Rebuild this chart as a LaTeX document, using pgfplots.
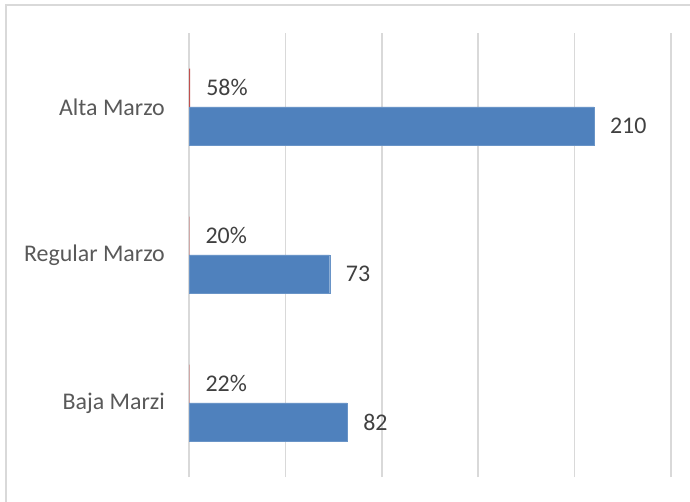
\documentclass[border=0pt]{standalone}
\usepackage{fontspec}
\setmainfont{Carlito}
\usepackage{pgfplots}
\pgfplotsset{compat=1.18}
\definecolor{barblue}{HTML}{4F81BD}
\definecolor{barred}{HTML}{C0504D}
\definecolor{gridgray}{HTML}{D9D9D9}
\definecolor{labelgray}{HTML}{595959}
\definecolor{valgray}{HTML}{404040}

\begin{document}
\begin{tikzpicture}
\useasboundingbox (0,0) rectangle (690bp,502bp);
% chart area frame (only top and left edges visible in the crop)
\draw[gridgray, line width=1.3bp] (6bp,0) -- (6bp,497bp) -- (690bp,497bp);
\begin{axis}[
    at={(189bp,25bp)}, anchor=south west,
    scale only axis,
    width=482bp, height=444bp,
    xbar,
    xmin=0, xmax=250,
    ymin=-0.5, ymax=2.5,
    xtick={0,50,...,250},
    xticklabels={},
    ytick={0,1,2},
    yticklabels={Baja Marzi, Regular Marzo, Alta Marzo},
    major tick length=0,
    xmajorgrids,
    grid style={gridgray, line width=1.5bp},
    axis line style={draw=none},
    yticklabel style={font=\fontsize{24}{28}\selectfont, text=labelgray, inner sep=0pt, xshift=-24bp},
    bar width=0.26,
    /pgf/number format/assume math mode=true,
    nodes near coords,
    every node near coord/.append style={font=\fontsize{24}{28}\selectfont, text=valgray, anchor=west, inner sep=0pt, xshift=16bp},
    clip=false,
]
% counts
\addplot[fill=barblue, draw=barblue!85!white, bar shift=-0.13]
  coordinates {(82,0) (73,1) (210,2)};
% shares
\addplot[fill=barred, draw=none, bar shift=0.13,
    point meta=explicit symbolic]
  coordinates {(0.22,0) [22\%] (0.20,1) [20\%] (0.58,2) [58\%]};
\end{axis}
\end{tikzpicture}
\end{document}
